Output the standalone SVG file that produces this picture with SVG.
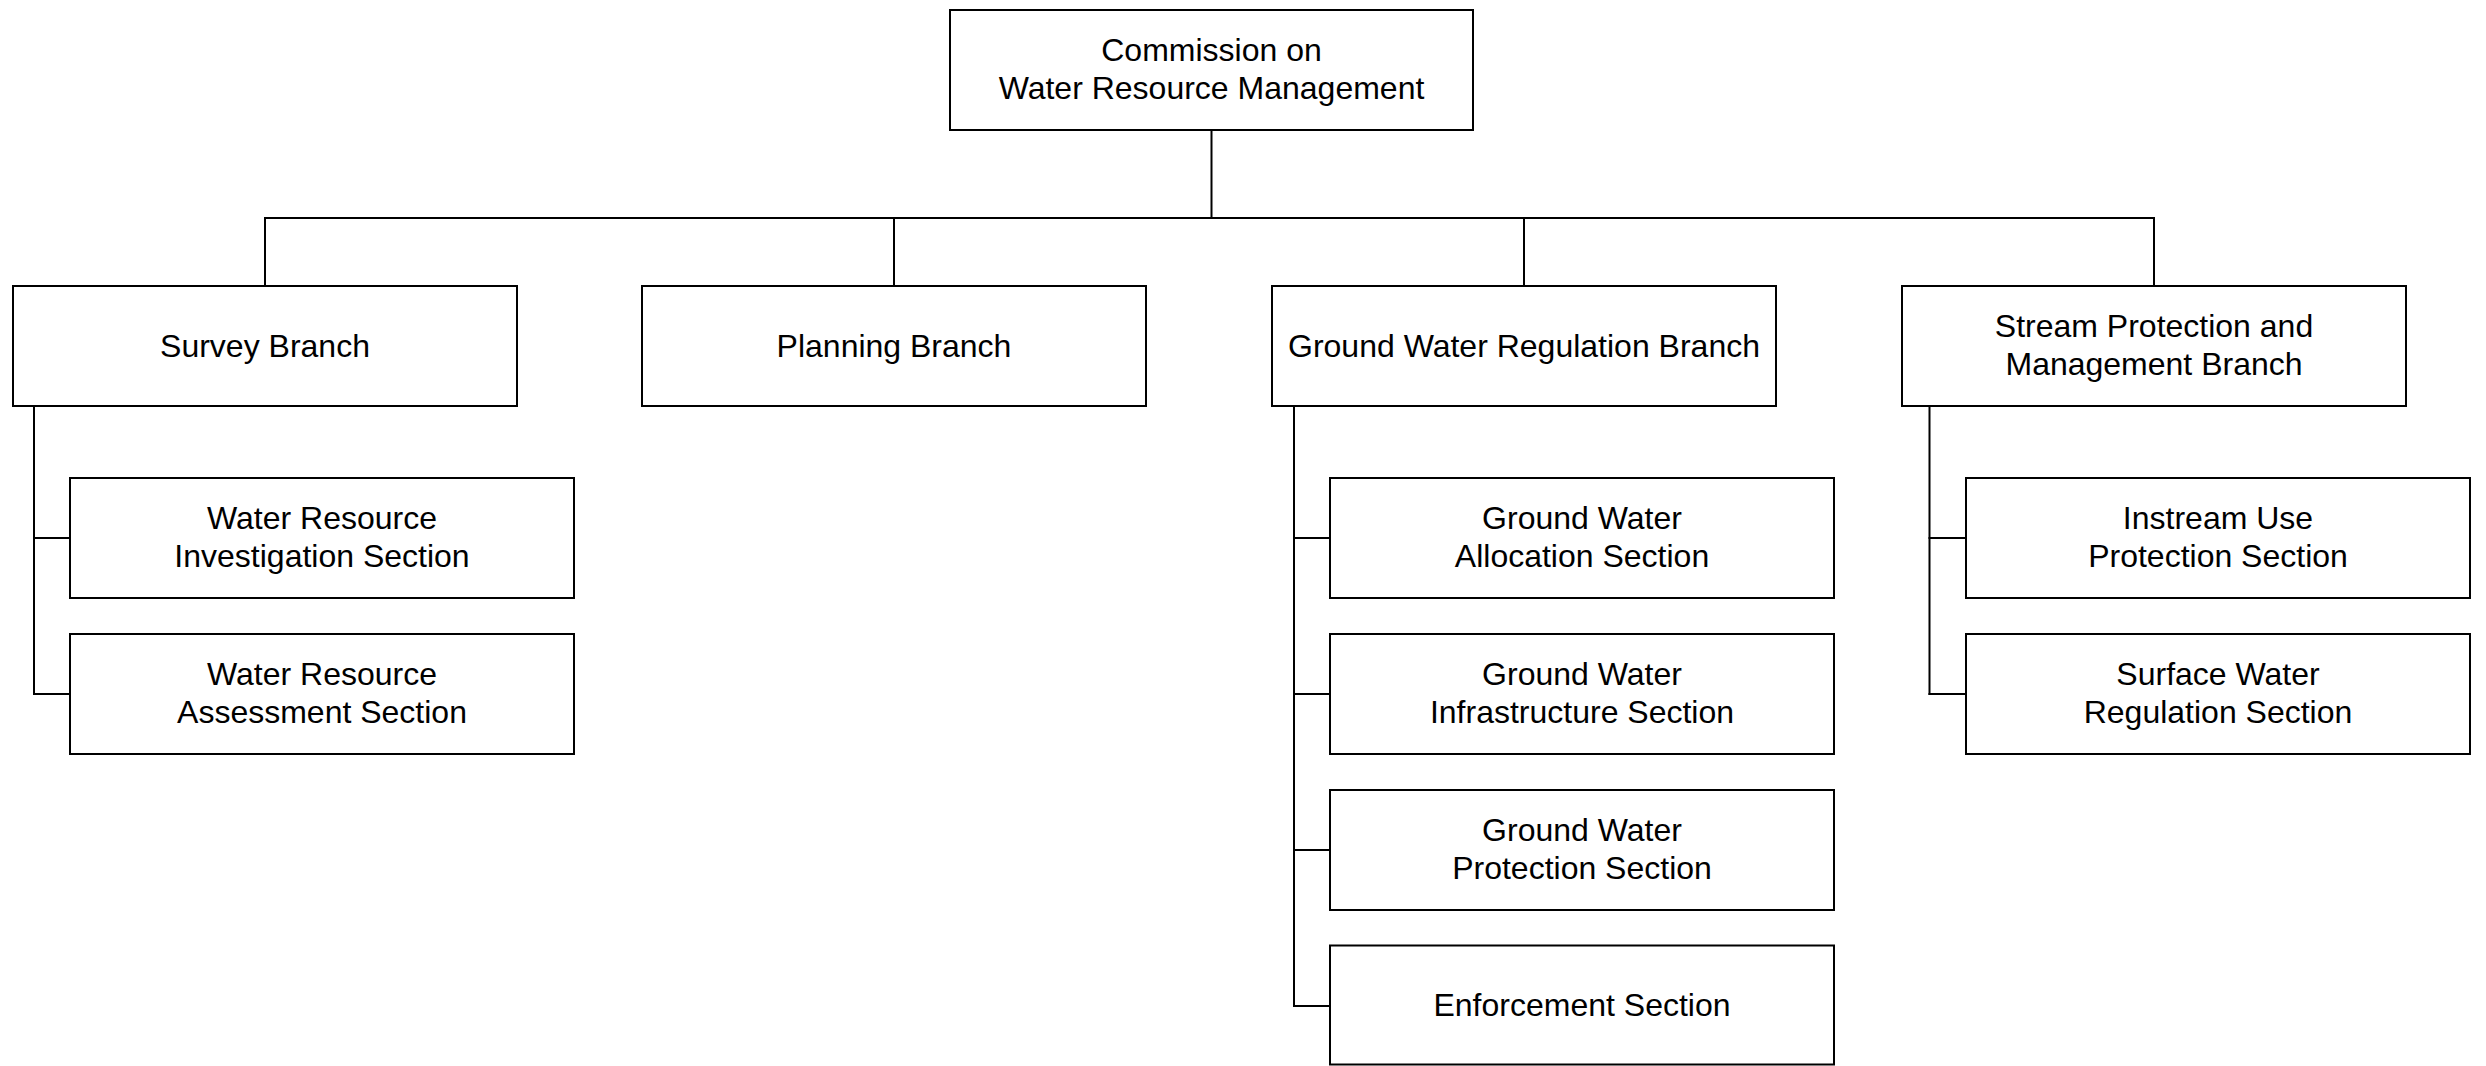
<svg xmlns="http://www.w3.org/2000/svg" width="2486" height="1066" viewBox="0 0 2486 1066">
<style>
rect.box{fill:#fff;stroke:#000;stroke-width:2}
#connectors line{stroke:#000;stroke-width:2}
text{font-family:"Liberation Sans",Arial,sans-serif;font-size:32px;fill:#000;text-anchor:middle}
</style>
<rect x="0" y="0" width="2486" height="1066" fill="#fff"/>
<g id="connectors">
<line x1="1211.5" y1="130" x2="1211.5" y2="218"/>
<line x1="264" y1="218" x2="2155" y2="218"/>
<line x1="265" y1="218" x2="265" y2="286"/>
<line x1="894" y1="218" x2="894" y2="286"/>
<line x1="1524" y1="218" x2="1524" y2="286"/>
<line x1="2154" y1="218" x2="2154" y2="286"/>
<line x1="34" y1="406" x2="34" y2="695"/>
<line x1="33" y1="538" x2="70" y2="538"/>
<line x1="33" y1="694" x2="70" y2="694"/>
<line x1="1294" y1="406" x2="1294" y2="1007"/>
<line x1="1293" y1="538" x2="1330" y2="538"/>
<line x1="1293" y1="694" x2="1330" y2="694"/>
<line x1="1293" y1="850" x2="1330" y2="850"/>
<line x1="1293" y1="1006" x2="1330" y2="1006"/>
<line x1="1929.5" y1="406" x2="1929.5" y2="695"/>
<line x1="1928.5" y1="538" x2="1966" y2="538"/>
<line x1="1928.5" y1="694" x2="1966" y2="694"/>
</g>
<g id="commission">
<rect class="box" x="950" y="10" width="523" height="120"/>
<text x="1211.5" y="61">Commission on</text>
<text x="1211.5" y="99">Water Resource Management</text>
</g>
<g id="survey">
<rect class="box" x="13" y="286" width="504" height="120"/>
<text x="265" y="357">Survey Branch</text>
</g>
<g id="planning">
<rect class="box" x="642" y="286" width="504" height="120"/>
<text x="894" y="357">Planning Branch</text>
</g>
<g id="gwreg">
<rect class="box" x="1272" y="286" width="504" height="120"/>
<text x="1524" y="357">Ground Water Regulation Branch</text>
</g>
<g id="stream">
<rect class="box" x="1902" y="286" width="504" height="120"/>
<text x="2154" y="337">Stream Protection and</text>
<text x="2154" y="375">Management Branch</text>
</g>
<g id="wr-investigation">
<rect class="box" x="70" y="478" width="504" height="120"/>
<text x="322" y="529">Water Resource</text>
<text x="322" y="567">Investigation Section</text>
</g>
<g id="wr-assessment">
<rect class="box" x="70" y="634" width="504" height="120"/>
<text x="322" y="685">Water Resource</text>
<text x="322" y="723">Assessment Section</text>
</g>
<g id="gw-allocation">
<rect class="box" x="1330" y="478" width="504" height="120"/>
<text x="1582" y="529">Ground Water</text>
<text x="1582" y="567">Allocation Section</text>
</g>
<g id="gw-infrastructure">
<rect class="box" x="1330" y="634" width="504" height="120"/>
<text x="1582" y="685">Ground Water</text>
<text x="1582" y="723">Infrastructure Section</text>
</g>
<g id="gw-protection">
<rect class="box" x="1330" y="790" width="504" height="120"/>
<text x="1582" y="841">Ground Water</text>
<text x="1582" y="879">Protection Section</text>
</g>
<g id="enforcement">
<rect class="box" x="1330" y="945.5" width="504" height="119"/>
<text x="1582" y="1016">Enforcement Section</text>
</g>
<g id="instream">
<rect class="box" x="1966" y="478" width="504" height="120"/>
<text x="2218" y="529">Instream Use</text>
<text x="2218" y="567">Protection Section</text>
</g>
<g id="surface">
<rect class="box" x="1966" y="634" width="504" height="120"/>
<text x="2218" y="685">Surface Water</text>
<text x="2218" y="723">Regulation Section</text>
</g>
</svg>
